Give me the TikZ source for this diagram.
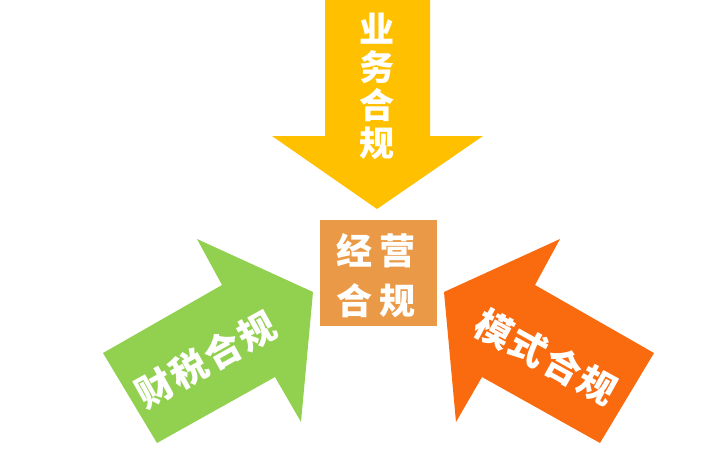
\documentclass[tikz,border=0pt]{standalone}
\usepackage{fontspec}
\newfontfamily\cjk{Noto Sans CJK SC}
\usetikzlibrary{positioning}
\definecolor{yewu}{HTML}{FFC000}
\definecolor{caishui}{HTML}{92D050}
\definecolor{moshi}{HTML}{FA6A0E}
\definecolor{jingying}{HTML}{EA9A47}
\tikzset{
    %Define style for arrow bodies
    bigarrow/.style={
           draw=none,
           },
    %Define style for the texts
    word/.style={
           text=white,
           inner sep=0pt,
           align=center,
           font=\cjk\bfseries\fontsize{37}{37}\selectfont,
           },
    topword/.style={
           word,
           font=\cjk\bfseries\fontsize{35}{38}\selectfont,
           },
    boxword/.style={
           word,
           font=\cjk\bfseries\fontsize{36}{50}\selectfont,
           },
}
\begin{document}
\begin{tikzpicture}[x=1pt,y=-1pt]
\useasboundingbox (0,0) rectangle (710,459);
% top arrow
\fill[bigarrow,yewu] (325,0) -- (430,0) -- (430,136) -- (483,136) -- (377,209)
	-- (272,136) -- (325,136) -- cycle;
% left arrow
\fill[bigarrow,caishui] (103,353) -- (222,285) -- (197,239) -- (313,292)
	-- (301,422) -- (275,377) -- (157,443) -- cycle;
% right arrow
\fill[bigarrow,moshi] (654,353) -- (535,285) -- (560,239) -- (444,292)
	-- (456,422) -- (482,377) -- (600,443) -- cycle;
% centre box
\fill[jingying] (320,220) rectangle (437,326);
\node[boxword] (JY) at (376,276) {经\hspace{8pt}营\\合\hspace{8pt}规};
\node[topword] (YW) at (377,86) {业\\务\\合\\规};
\node[word,rotate=29] (CS) at (206,360) {财\hspace{2pt}税\hspace{2pt}合\hspace{2pt}规};
\node[word,rotate=-29] (MS) at (546,357) {模\hspace{2pt}式\hspace{2pt}合\hspace{2pt}规};
\end{tikzpicture}
\end{document}
